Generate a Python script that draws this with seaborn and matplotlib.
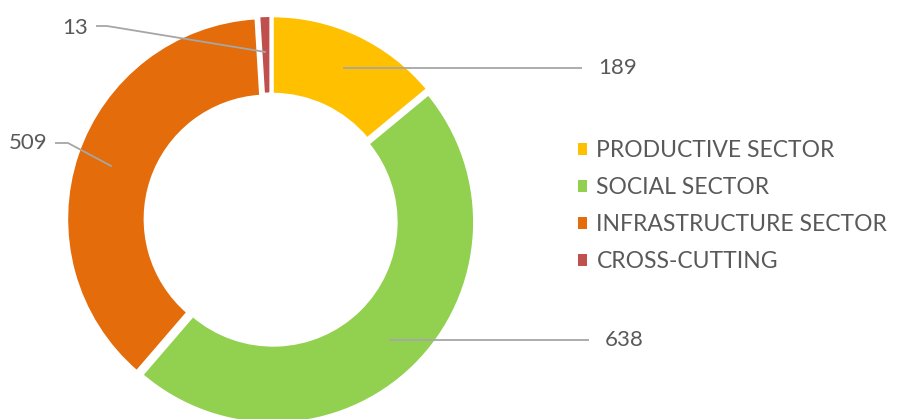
import matplotlib.pyplot as plt
import numpy as np
import seaborn as sns

# sector totals
sectors = ['PRODUCTIVE SECTOR', 'SOCIAL SECTOR', 'INFRASTRUCTURE SECTOR', 'CROSS-CUTTING']
values = [189, 638, 509, 13]
colors = ['#FFC000', '#92D050', '#E46C0A', '#C0504D']

# where each value label sits (data units, radius 1 = outer ring) and the elbow of its leader line
label_pos = [(1.635, None), (1.67, None), (-1.12, 0.385), (-0.915, 0.96)]
elbows = [None, None, (-1.015, 0.385), (-0.82, 0.97)]

sns.set_theme(style='white')
plt.rcParams['font.family'] = ['Lato', 'DejaVu Sans']
text_col = '#595959'
line_col = '#A6A6A6'

W, H = 898, 419
cx, cy, R = 271, 220, 200
fig = plt.figure(figsize=(W / 100, H / 100), dpi=100)
ax = fig.add_axes([0, 0, 1, 1])

wedges, _ = ax.pie(values, colors=colors, startangle=90, counterclock=False,
                   radius=1.0075, explode=[0.015] * len(values),
                   wedgeprops=dict(width=0.3925, edgecolor='white', linewidth=2.2),
                   frame=True)
ax.set_xlim(-cx / R, (W - cx) / R)
ax.set_ylim(-(H - cy) / R, cy / R)
ax.axis('off')

total = sum(values)
start = 90.0
for v, pos, elb in zip(values, label_pos, elbows):
    span = v / total * 360
    mid = np.deg2rad(start - span / 2)
    start -= span
    ax0, ay0 = 0.84 * np.cos(mid), 0.84 * np.sin(mid)
    tx, ty = pos
    if elb is None:
        ty = ay0
        xs, ys = [ax0, tx - 0.08], [ay0, ty]
        ha = 'left'
    else:
        xs, ys = [ax0, elb[0], tx + 0.04], [ay0, elb[1], elb[1]]
        ha = 'right'
    ax.plot(xs, ys, color=line_col, lw=1.3, solid_capstyle='butt')
    ax.text(tx, ty, str(v), ha=ha, va='center', fontsize=16, color=text_col)

leg = ax.legend(wedges, sectors, loc='center left', bbox_to_anchor=(0.6437, 0.508),
                bbox_transform=fig.transFigure, frameon=False, fontsize=16.5,
                borderaxespad=0, borderpad=0,
                handlelength=0.4, handleheight=0.4, handletextpad=0.4, labelspacing=0.7)
for t in leg.get_texts():
    t.set_color(text_col)
for h in leg.legend_handles:
    h.set_edgecolor('none')

fig.savefig('out.png', dpi=100, facecolor='white')
